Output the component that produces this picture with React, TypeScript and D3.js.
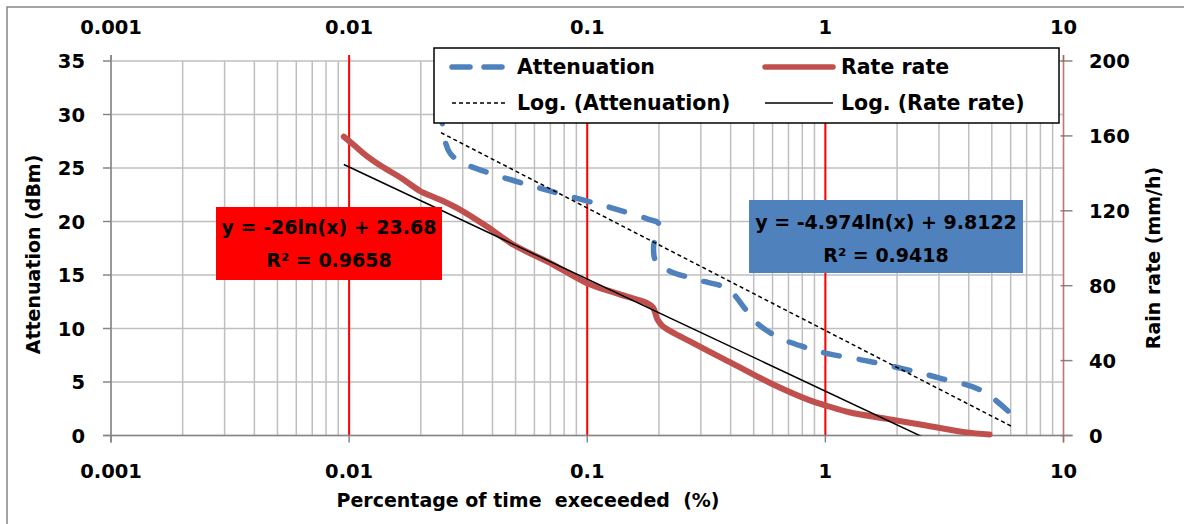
import React, { useEffect, useRef } from 'react';
import * as d3 from 'd3';

const decadeTicks = [0.001, 0.01, 0.1, 1, 10];
const decadeLabels = ['0.001', '0.01', '0.1', '1', '10'];
const attenTicks = [0, 5, 10, 15, 20, 25, 30, 35];
const rainTicks = [0, 40, 80, 120, 160, 200];
const markerLines = [0.01, 0.1, 1];

// Attenuation (dBm) vs percentage of time exceeded
const attenPct = [0.0243, 0.0246, 0.0265, 0.0306, 0.0405, 0.0591, 0.0862, 0.1255, 0.1811, 0.1995, 0.19, 0.194, 0.22, 0.297, 0.389, 0.458, 0.505, 0.63, 0.834, 1.0, 1.476, 2.15, 3.1, 4.53, 6.11];
const attenDb = [34, 29.2, 26.4, 25.4, 24.4, 23.3, 22.3, 21.3, 20.2, 19.8, 17.7, 16.3, 15.4, 14.5, 13.7, 11.9, 10.7, 9.2, 8.2, 7.7, 7.0, 6.2, 5.3, 4.2, 1.9];

// Rain rate (mm/h) vs percentage of time exceeded
const rainPct = [0.0095, 0.0105, 0.0118, 0.0138, 0.0166, 0.0198, 0.0245, 0.0292, 0.0378, 0.0488, 0.0719, 0.0992, 0.137, 0.177, 0.189, 0.197, 0.207, 0.284, 0.412, 0.598, 0.867, 1.007, 1.26, 1.82, 2.65, 3.84, 4.89];
const rainMmh = [159.6, 155, 149.5, 143.5, 137.4, 130.7, 125.5, 120.6, 111.7, 102.0, 91.3, 81.5, 75.4, 70.9, 68.3, 62.1, 58.5, 48.8, 38.1, 27.5, 18.6, 16.0, 12.4, 8.9, 5.3, 1.8, 0.5];

// logarithmic trendlines y = a ln(x) + b
const attenFit = [-4.974, 9.8122];
const rainFit = [-26, 23.68];
const attenFitText = ['y = -4.974ln(x) + 9.8122', 'R² = 0.9418'];
const rainFitText = ['y = -26ln(x) + 23.68', 'R² = 0.9658'];
const legendNames = ['Attenuation', 'Rate rate', 'Log. (Attenuation)', 'Log. (Rate rate)'];

function App() {
    const ref = useRef(null);

    useEffect(() => {
        const width = 1184;
        const height = 524;
        const left = 111, right = 1063.5, top = 61, bottom = 435.5;

        const svg = d3.select(ref.current);
        svg.selectAll('*').remove();
        svg.attr('width', width)
            .attr('height', height)
            .style('font-family', '"DejaVu Sans", sans-serif')
            .style('font-weight', 'bold');

        const x = d3.scaleLog().domain([0.001, 10]).range([left, right]);
        const yA = d3.scaleLinear().domain([0, 35]).range([bottom, top]);
        const yR = d3.scaleLinear().domain([0, 200]).range([bottom, top]);

        // chart frame
        svg.append('rect')
            .attr('x', 7).attr('y', 7)
            .attr('width', 1200).attr('height', 540)
            .attr('fill', 'white')
            .attr('stroke', '#868686')
            .attr('stroke-width', 1.5);

        svg.append('clipPath').attr('id', 'plot-clip')
            .append('rect')
            .attr('x', left).attr('y', top)
            .attr('width', right - left).attr('height', bottom - top);

        // gridlines
        svg.append('g').selectAll('line')
            .data(x.ticks())
            .enter()
            .append('line')
            .attr('x1', d => x(d)).attr('x2', d => x(d))
            .attr('y1', top).attr('y2', bottom)
            .attr('stroke', '#BFBFBF')
            .attr('stroke-width', 1.5);

        svg.append('g').selectAll('line')
            .data(attenTicks)
            .enter()
            .append('line')
            .attr('x1', left).attr('x2', right)
            .attr('y1', d => yA(d)).attr('y2', d => yA(d))
            .attr('stroke', '#BFBFBF')
            .attr('stroke-width', 1.5);

        // red markers at each decade
        svg.append('g').selectAll('line')
            .data(markerLines)
            .enter()
            .append('line')
            .attr('x1', d => x(d)).attr('x2', d => x(d))
            .attr('y1', top - 6).attr('y2', bottom)
            .attr('stroke', '#FF0000')
            .attr('stroke-width', 2);

        // axes
        const axisColor = '#868686';
        svg.append('line')
            .attr('x1', left).attr('x2', left)
            .attr('y1', top - 6).attr('y2', bottom + 7)
            .attr('stroke', axisColor).attr('stroke-width', 1.5);
        svg.append('line')
            .attr('x1', left - 8).attr('x2', right + 9)
            .attr('y1', bottom).attr('y2', bottom)
            .attr('stroke', axisColor).attr('stroke-width', 1.5);

        svg.append('g').selectAll('line')
            .data(attenTicks)
            .enter()
            .append('line')
            .attr('x1', left - 8).attr('x2', left)
            .attr('y1', d => yA(d)).attr('y2', d => yA(d))
            .attr('stroke', axisColor).attr('stroke-width', 1.5);

        svg.append('g').selectAll('line')
            .data(rainTicks)
            .enter()
            .append('line')
            .attr('x1', right - 3).attr('x2', right + 9)
            .attr('y1', d => yR(d)).attr('y2', d => yR(d))
            .attr('stroke', axisColor).attr('stroke-width', 1.5);

        svg.append('g').selectAll('line')
            .data(decadeTicks.filter(d => !markerLines.includes(d)))
            .enter()
            .append('line')
            .attr('x1', d => x(d)).attr('x2', d => x(d))
            .attr('y1', top - 6).attr('y2', top)
            .attr('stroke', axisColor).attr('stroke-width', 1.5);

        svg.append('g').selectAll('line')
            .data(decadeTicks)
            .enter()
            .append('line')
            .attr('x1', d => x(d)).attr('x2', d => x(d))
            .attr('y1', bottom).attr('y2', bottom + 7)
            .attr('stroke', axisColor).attr('stroke-width', 1.5);

        svg.append('line')
            .attr('x1', right).attr('x2', right)
            .attr('y1', top - 6).attr('y2', bottom + 7)
            .attr('stroke', '#C0504D')
            .attr('stroke-opacity', 0.65)
            .attr('stroke-width', 1.5);

        // tick labels
        const tickSize = 19.5;
        const lift = tickSize * 0.36;
        [26.5, 471].forEach(cy => {
            svg.append('g').selectAll('text')
                .data(decadeTicks)
                .enter()
                .append('text')
                .attr('x', d => x(d))
                .attr('y', cy + lift)
                .attr('text-anchor', 'middle')
                .style('font-size', tickSize)
                .text((d, i) => decadeLabels[i]);
        });

        svg.append('g').selectAll('text')
            .data(attenTicks)
            .enter()
            .append('text')
            .attr('x', 85)
            .attr('y', d => yA(d) + lift)
            .attr('text-anchor', 'end')
            .style('font-size', tickSize)
            .text(d => d);

        svg.append('g').selectAll('text')
            .data(rainTicks)
            .enter()
            .append('text')
            .attr('x', 1089)
            .attr('y', d => yR(d) + lift)
            .attr('text-anchor', 'start')
            .style('font-size', tickSize)
            .text(d => d);

        // axis titles
        svg.append('text')
            .attr('x', 528).attr('y', 500 + 19 * 0.36)
            .attr('text-anchor', 'middle')
            .attr('xml:space', 'preserve')
            .style('font-size', 19)
            .style('white-space', 'pre')
            .text('Percentage of time  execeeded  (%)');

        svg.append('text')
            .attr('transform', 'translate(33,254.5) rotate(-90)')
            .attr('y', 19 * 0.36)
            .attr('text-anchor', 'middle')
            .style('font-size', 19)
            .text('Attenuation (dBm)');

        svg.append('text')
            .attr('transform', 'translate(1153,258) rotate(-90)')
            .attr('y', 19 * 0.36)
            .attr('text-anchor', 'middle')
            .style('font-size', 19)
            .text('Rain rate (mm/h)');

        // series
        const attenData = attenPct.map((p, i) => [p, attenDb[i]]);
        const rainData = rainPct.map((p, i) => [p, rainMmh[i]]);

        const attenLine = d3.line()
            .x(d => x(d[0]))
            .y(d => yA(d[1]))
            .curve(d3.curveCatmullRom.alpha(0.5));
        const rainLine = d3.line()
            .x(d => x(d[0]))
            .y(d => yR(d[1]))
            .curve(d3.curveCatmullRom.alpha(0.5));

        svg.append('path')
            .datum(rainData)
            .attr('d', rainLine)
            .attr('fill', 'none')
            .attr('stroke', '#C0504D')
            .attr('stroke-width', 6)
            .attr('stroke-linecap', 'round');

        svg.append('path')
            .datum(attenData)
            .attr('d', attenLine)
            .attr('fill', 'none')
            .attr('stroke', '#4F81BD')
            .attr('stroke-width', 5.5)
            .attr('stroke-dasharray', '16 20')
            .attr('stroke-linecap', 'round');

        // trendlines
        const attenEnds = d3.extent(attenPct).map(p => [p, attenFit[0] * Math.log(p) + attenFit[1]]);
        const rainEnds = d3.extent(rainPct).map(p => [p, rainFit[0] * Math.log(p) + rainFit[1]]);

        svg.append('path')
            .datum(attenEnds)
            .attr('d', d3.line().x(d => x(d[0])).y(d => yA(d[1])))
            .attr('clip-path', 'url(#plot-clip)')
            .attr('fill', 'none')
            .attr('stroke', 'black')
            .attr('stroke-width', 1.5)
            .attr('stroke-dasharray', '4 3');

        svg.append('path')
            .datum(rainEnds)
            .attr('d', d3.line().x(d => x(d[0])).y(d => yR(d[1])))
            .attr('clip-path', 'url(#plot-clip)')
            .attr('fill', 'none')
            .attr('stroke', 'black')
            .attr('stroke-width', 1.5);

        // equation labels
        const labelBox = (bx, by, bw, bh, fill, lines, lineY) => {
            svg.append('rect')
                .attr('x', bx).attr('y', by)
                .attr('width', bw).attr('height', bh)
                .attr('fill', fill);
            svg.append('g').selectAll('text')
                .data(lines)
                .enter()
                .append('text')
                .attr('x', bx + bw / 2)
                .attr('y', (d, i) => lineY[i] + 19 * 0.36)
                .attr('text-anchor', 'middle')
                .style('font-size', 19)
                .text(d => d);
        };
        labelBox(216, 207, 226, 73, '#FF0000', rainFitText, [227.5, 260.5]);
        labelBox(749, 200, 274, 73, '#4F81BD', attenFitText, [222.5, 255]);

        // legend
        const legend = svg.append('g');
        legend.append('rect')
            .attr('x', 434).attr('y', 48)
            .attr('width', 625).attr('height', 75)
            .attr('fill', 'white')
            .attr('stroke', 'black')
            .attr('stroke-width', 1.5);

        const rows = [67, 103];
        const cols = [[452, 507, 517], [765, 833, 841]];
        const styles = [
            { stroke: '#4F81BD', width: 5.5, dash: '18 14', cap: 'round' },
            { stroke: '#C0504D', width: 5.5, dash: null, cap: 'round' },
            { stroke: 'black', width: 1.5, dash: '4 3', cap: 'butt' },
            { stroke: 'black', width: 1.5, dash: null, cap: 'butt' },
        ];
        legendNames.forEach((name, i) => {
            const c = cols[i % 2];
            const cy = rows[Math.floor(i / 2)];
            const s = styles[i];
            legend.append('line')
                .attr('x1', c[0]).attr('x2', c[1])
                .attr('y1', cy).attr('y2', cy)
                .attr('stroke', s.stroke)
                .attr('stroke-width', s.width)
                .attr('stroke-linecap', s.cap)
                .attr('stroke-dasharray', s.dash);
            legend.append('text')
                .attr('x', c[2])
                .attr('y', cy + 20.5 * 0.36)
                .style('font-size', 20.5)
                .text(name);
        });
    }, []);

    return (
        <svg ref={ref} style={{ position: 'absolute', left: 0, top: 0, background: 'white' }}></svg>
    );
}

export default App;
